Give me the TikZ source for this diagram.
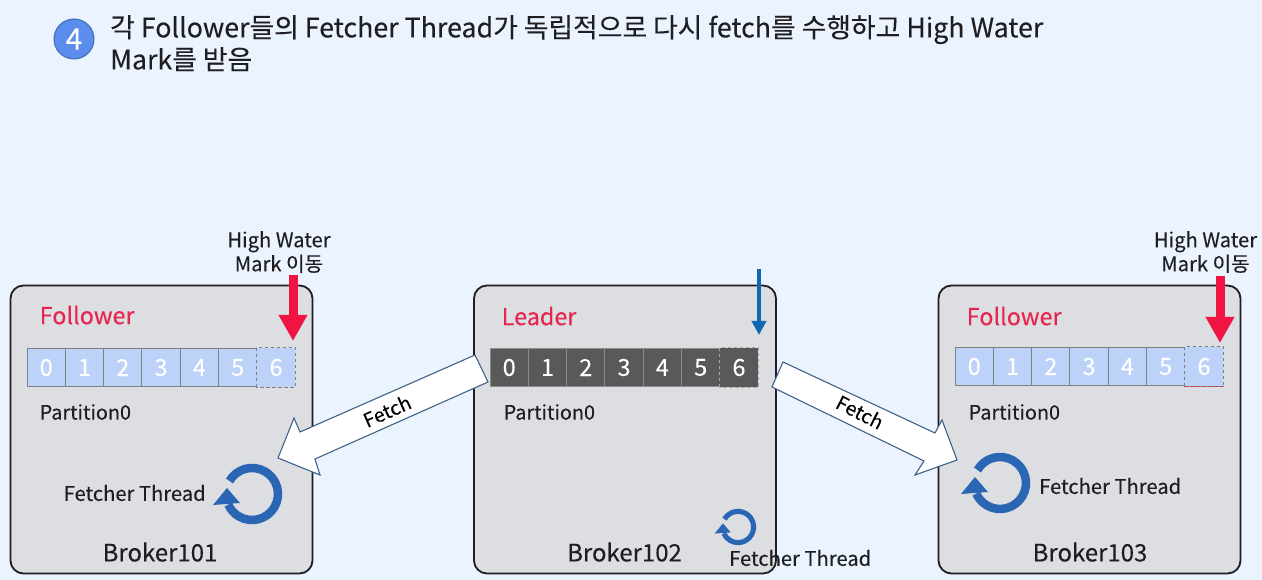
\documentclass[tikz,border=0pt]{standalone}
\usepackage{fontspec}
\setmainfont{Noto Sans CJK KR}[FakeBold=0.12]
\usetikzlibrary{arrows.meta,calc}
\definecolor{bgc}{HTML}{EBF3FE}
\definecolor{boxc}{HTML}{DCDEE2}
\definecolor{inkc}{HTML}{1E1E22}
\definecolor{redc}{HTML}{F01443}
\definecolor{labred}{HTML}{E8254F}
\definecolor{bluec}{HTML}{0E68B4}
\definecolor{cycc}{HTML}{2A66B4}
\definecolor{cellc}{HTML}{BDD2F8}
\definecolor{darkc}{HTML}{595959}
\definecolor{fatc}{HTML}{3F6289}
\definecolor{numc}{HTML}{5B8DEC}
\tikzset{
  broker/.style={draw=inkc,line width=1.8pt,fill=boxc,rounded corners=13pt,minimum width=302pt,minimum height=288pt,inner sep=0pt},
  fcell/.style={draw=#1,line width=1pt,minimum width=38.3pt,minimum height=38.5pt,inner sep=0pt,text=white,font=\fontsize{23.5}{26}\selectfont},
  lightcell/.style={fcell=black!50,fill=cellc},
  darkcell/.style={fcell=black!45,fill=darkc},
  roletext/.style={text=labred,anchor=west,font=\fontsize{23.4}{26}\selectfont,inner sep=0pt},
  parttext/.style={text=inkc,anchor=west,font=\fontsize{19.8}{22}\selectfont,inner sep=0pt},
  threadtext/.style={text=inkc,anchor=west,font=\fontsize{20.2}{22}\selectfont,inner sep=0pt},
  brokertext/.style={text=inkc,font=\fontsize{24}{26}\selectfont,inner sep=0pt},
  hwtext/.style={text=inkc,align=center,font=\fontsize{20.2}{24}\selectfont,inner sep=0pt},
  hwarrow/.style={draw=redc,line width=9pt,-{Triangle[width=27pt,length=26pt]},shorten >=7pt},
  leadarrow/.style={draw=bluec,line width=4pt,-{Triangle[width=14pt,length=14pt]},shorten >=13pt},
  fatarrow/.style={draw=fatc,line width=1.1pt,fill=white,line join=miter},
  fetchtext/.style={text=black,font=\fontsize{19.5}{22}\selectfont,inner sep=0pt},
  titletext/.style={text=inkc,anchor=north west,align=left,font=\fontsize{26.8}{32}\selectfont,inner sep=0pt},
}
\newcommand{\cyclemark}[4]{% name, x, y, scale
  \coordinate (#1) at (#2,#3);
  \draw[cycc,line width=#4*8.5pt] ([shift={(150:#4*26pt)}]#1) arc[start angle=150,end angle=-156,radius=#4*26pt];
  \fill[cycc] ($(#1)+(-#4*39pt,-#4*11pt)$) -- ($(#1)+(-#4*25pt,#4*6pt)$) -- ($(#1)+(-#4*12pt,-#4*9pt)$) -- cycle;
}
\newcommand{\cellrow}[6]{% prefix, x of first centre, y, style, dash colour, fill colour
  \foreach \i in {0,...,5}{
    \node[#4] (#1\i) at ({#2+38.3*\i},#3) {\i};
  }
  \node[#4,draw=none] (#16) at ({#2+38.3*6},#3) {6};
  \draw[#6,line width=1.5pt] (#16.south west) -- (#16.north west);
  \draw[#5,line width=1pt,dash pattern=on 3.5pt off 2.5pt] (#16.south west) rectangle (#16.north east);
}
\begin{document}
\begin{tikzpicture}[x=1pt,y=-1pt]
\useasboundingbox (0,0) rectangle (1262,580);
\fill[bgc] (0,0) rectangle (1262,580);

% heading
\node[circle,draw=numc!75!black,line width=1pt,fill=numc,minimum size=40pt,inner sep=0pt,text=white,font=\fontsize{30}{32}\selectfont] (num) at (74,39) {4};
\node[titletext] (title) at (110,15) {각 Follower들의 Fetcher Thread가 독립적으로 다시 fetch를 수행하고 High Water\\Mark를 받음};

% brokers
\node[broker] (b101) at (161.5,429.5) {};
\node[broker] (b102) at (625,429.5) {};
\node[broker] (b103) at (1089.5,429.5) {};

% partitions
\cellrow{a}{46.2}{367.5}{lightcell}{black!50}{cellc}
\cellrow{m}{509.2}{367.5}{darkcell}{black!35}{darkc}
\cellrow{c}{974.2}{366.5}{lightcell}{black!50}{cellc}
\draw[labred!70!gray,line width=1pt,dash pattern=on 3.5pt off 2.5pt] (c6.south west) -- (c6.south east);

% role and partition labels
\node[roletext] (r1) at (39.5,315) {Follower};
\node[roletext] (r2) at (501.5,316) {Leader};
\node[roletext] (r3) at (966.5,316) {Follower};
\node[parttext] (p1) at (39.5,412) {Partition0};
\node[parttext] (p2) at (503.5,412) {Partition0};
\node[parttext] (p3) at (968.5,412) {Partition0};
\node[brokertext] (n1) at (160,552) {Broker101};
\node[brokertext] (n2) at (624.5,552) {Broker102};
\node[brokertext] (n3) at (1090,552) {Broker103};

% fetcher threads
\cyclemark{cy1}{252}{494}{1}
\cyclemark{cy2}{738}{527}{0.6}
\cyclemark{cy3}{1000}{483}{1}
\node[threadtext] (t1) at (63.5,493) {Fetcher Thread};
\node[threadtext] (t2) at (729,558) {Fetcher Thread};
\node[threadtext] (t3) at (1039,486) {Fetcher Thread};

% high water mark
\node[hwtext] (hw1) at (279,252) {High Water\\Mark 이동};
\node[hwtext] (hw3) at (1205.5,252) {High Water\\Mark 이동};
\coordinate (hs1) at (293,275);
\coordinate (he1) at (293,348);
\coordinate (hs3) at (1220,276.5);
\coordinate (he3) at (1220,350);
\draw[hwarrow] (hs1) -- (he1);
\draw[hwarrow] (hs3) -- (he3);
\coordinate (ls) at (759,269);
\coordinate (le) at (759,348);
\draw[leadarrow] (ls) -- (le);

% fetch arrows
\coordinate (la1) at (475,355);
\coordinate (la2) at (300,432);
\coordinate (la3) at (294,418);
\coordinate (la4) at (278,458);
\coordinate (la5) at (320,475);
\coordinate (la6) at (315,459);
\coordinate (la7) at (488,382);
\draw[fatarrow] (la1) -- (la2) -- (la3) -- (la4) -- (la5) -- (la6) -- (la7) -- cycle;
\coordinate (ra1) at (783,362);
\coordinate (ra2) at (935,433);
\coordinate (ra3) at (942,420);
\coordinate (ra4) at (957,460);
\coordinate (ra5) at (915,475);
\coordinate (ra6) at (924,461);
\coordinate (ra7) at (772,387);
\draw[fatarrow] (ra1) -- (ra2) -- (ra3) -- (ra4) -- (ra5) -- (ra6) -- (ra7) -- cycle;
\node[fetchtext,rotate=24] (f1) at (387,411) {Fetch};
\node[fetchtext,rotate=-27] (f2) at (860,412) {Fetch};
\end{tikzpicture}
\end{document}
